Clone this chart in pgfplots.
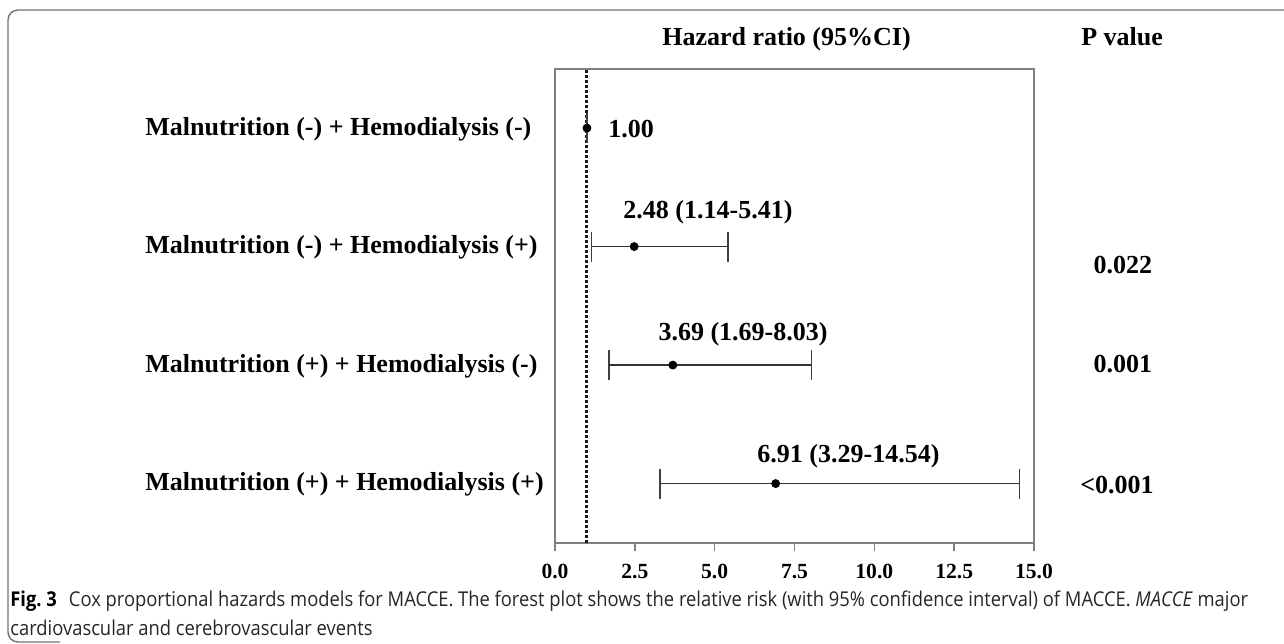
\documentclass[border=0pt]{standalone}
\usepackage{fontspec}
\setmainfont{Liberation Serif}
\newfontfamily\capfont{Open Sans}[FakeStretch=0.9]
\usepackage{pgfplots}
\pgfplotsset{compat=1.18}
\usepackage{pgfplotstable}

\pgfplotstableread{
row hr lo hi
4 1.00 1.00 1.00
3 2.48 1.14 5.41
2 3.69 1.69 8.03
1 6.91 3.29 14.54
}\hrdata

\begin{document}
\begin{tikzpicture}
\useasboundingbox (0,0) rectangle (642pt,-321.5pt);
\draw[black!55, line width=0.7pt, rounded corners=5pt] (650pt,-5pt) -- (4pt,-5pt) -- (4pt,-321pt) -- (30pt,-321pt);
\begin{axis}[
  at={(277.5pt,-271.4pt)}, anchor=south west,
  width=239.5pt, height=237pt, scale only axis,
  xmin=0, xmax=15, ymin=0.5, ymax=4.5,
  xtick={0,2.5,5,7.5,10,12.5,15}, ytick=\empty,
  xtick pos=bottom, tick align=outside, major tick length=4pt,
  axis line style={draw=black!50, line width=0.7pt},
  every tick/.style={draw=black!50, line width=0.7pt},
  xticklabel style={font=\bfseries\fontsize{10.8}{12}\selectfont, yshift=-3pt,
    /pgf/number format/.cd, fixed, fixed zerofill, precision=1, assume math mode=true},
  clip=false,
]
\addplot[black!90, line width=1.5pt, densely dotted] coordinates {(1,0.5) (1,4.5)};
% confidence intervals
\addplot[black!80, line width=0.65pt] coordinates {(1.14,3) (5.41,3)};
\addplot[black!80, line width=0.65pt] coordinates {(1.69,2) (8.03,2)};
\addplot[black!80, line width=0.65pt] coordinates {(3.29,1) (14.54,1)};
\addplot[only marks, mark=|, mark size=7.5pt, mark options={draw=black!75, line width=0.75pt}]
  table[x=lo, y=row] {\hrdata};
\addplot[only marks, mark=|, mark size=7.5pt, mark options={draw=black!75, line width=0.75pt}]
  table[x=hi, y=row] {\hrdata};
\addplot[only marks, mark=*, mark size=2pt, black] table[x=hr, y=row] {\hrdata};
% labels
\begin{scope}[every node/.style={font=\bfseries\fontsize{13}{15}\selectfont, inner sep=0pt}]
\node[anchor=base west] at (axis cs:-12.84,3.94) {Malnutrition (-) + Hemodialysis (-)};
\node[anchor=base west] at (axis cs:-12.84,2.94) {Malnutrition (-) + Hemodialysis (+)};
\node[anchor=base west] at (axis cs:-12.84,1.94) {Malnutrition (+) + Hemodialysis (-)};
\node[anchor=base west] at (axis cs:-12.84,0.94) {Malnutrition (+) + Hemodialysis (+)};
\node[anchor=base] at (axis cs:7.25,4.696) {Hazard ratio (95\%CI)};
\node[anchor=base] at (axis cs:17.76,4.696) {P value};
\node[anchor=base west] at (axis cs:1.66,3.924) {1.00};
\node[anchor=base] at (axis cs:4.79,3.24) {2.48 (1.14-5.41)};
\node[anchor=base] at (axis cs:5.89,2.21) {3.69 (1.69-8.03)};
\node[anchor=base] at (axis cs:9.19,1.18) {6.91 (3.29-14.54)};
\node[anchor=base] at (axis cs:17.78,2.77) {0.022};
\node[anchor=base] at (axis cs:17.78,1.94) {0.001};
\node[anchor=base] at (axis cs:17.6,0.92) {<0.001};
\end{scope}
\end{axis}
\node[anchor=base west, align=left, inner sep=0pt, text=black!85,
  font=\capfont\fontsize{10.2}{14.5}\selectfont] at (5pt,-317.5pt)
  {{\bfseries\color{black}Fig.~3}\hspace{6pt}Cox proportional hazards models for MACCE. The forest plot shows the relative risk (with 95\% confidence interval) of MACCE. \textit{MACCE} major\\cardiovascular and cerebrovascular events};
\end{tikzpicture}
\end{document}
